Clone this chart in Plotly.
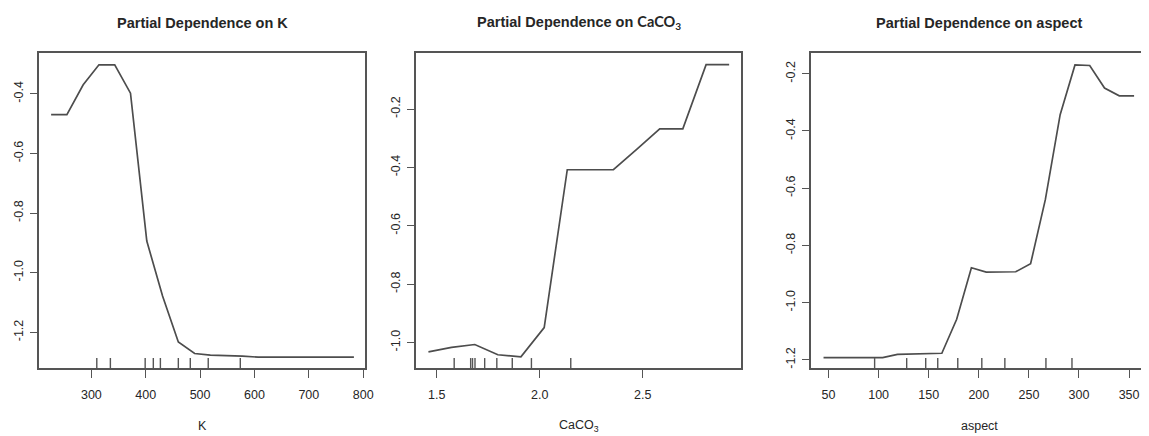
import plotly.graph_objects as go

# ---------------- data ----------------
k_x = [226, 255, 285, 314, 343, 372, 402, 431, 460, 490, 519, 548, 578, 607,
       636, 665, 695, 724, 753, 783]
k_y = [-0.470, -0.470, -0.370, -0.303, -0.303, -0.398, -0.894, -1.078, -1.232,
       -1.271, -1.276, -1.277, -1.280, -1.283, -1.283, -1.283, -1.283, -1.283,
       -1.283, -1.283]
k_rug = [310, 335, 399, 414, 427, 460, 482, 515, 574]

ca_x = [1.460, 1.572, 1.685, 1.797, 1.909, 2.022, 2.134, 2.246, 2.358, 2.471,
        2.583, 2.695, 2.808, 2.920]
ca_y = [-1.032, -1.017, -1.007, -1.042, -1.049, -0.949, -0.408, -0.408,
        -0.408, -0.338, -0.268, -0.268, -0.048, -0.048]
ca_rug = [1.585, 1.665, 1.674, 1.686, 1.733, 1.792, 1.867, 1.960, 2.151]

asp_x = [45, 59.8, 74.5, 89.3, 104, 118.8, 133.6, 148.3, 163.1, 177.9, 192.6,
         207.4, 222.1, 236.9, 251.7, 266.4, 281.2, 296, 310.7, 325.5, 340.2, 355]
asp_y = [-1.192, -1.192, -1.192, -1.192, -1.192, -1.181, -1.180, -1.178,
         -1.177, -1.058, -0.878, -0.893, -0.892, -0.892, -0.864, -0.640,
         -0.343, -0.169, -0.171, -0.250, -0.277, -0.277]
asp_rug = [96, 128, 147, 159, 179, 203, 226, 267, 293]

k_xticks = [300, 400, 500, 600, 700, 800]
k_yticks = [-0.4, -0.6, -0.8, -1.0, -1.2]
ca_xticks = [1.5, 2.0, 2.5]
ca_yticks = [-0.2, -0.4, -0.6, -0.8, -1.0]
asp_xticks = [50, 100, 150, 200, 250, 300, 350]
asp_yticks = [-0.2, -0.4, -0.6, -0.8, -1.0, -1.2]

titles = ["<b>Partial Dependence on K</b>",
          "<b>Partial Dependence on </b><span style='font-family:Lato'><b>CaCO<sub>3</sub></b></span>",
          "<b>Partial Dependence on aspect</b>"]
xlabels = ["K", "CaCO<sub>3</sub>", "aspect"]

# ---------------- layout ----------------
W, H = 1149, 436
LINE = "#4d4d4d"
AX = "#555555"
TXT = "#262626"
FONT = "Liberation Sans, Arial, sans-serif"

ydom = [1 - 369 / H, 1 - 53 / H]
xdoms = [[39 / W, 368 / W], [419 / W, 746.3 / W], [816.7 / W, 1.0]]
xranges = [[203.2, 804.2], [1.40, 2.978], [32.5, 361.9]]
yranges = [[-1.32, -0.263], [-1.088, -0.0075], [-1.229, -0.127]]

fig = go.Figure()
series = [(k_x, k_y), (ca_x, ca_y), (asp_x, asp_y)]
rugs = [k_rug, ca_rug, asp_rug]
xticks = [k_xticks, ca_xticks, asp_xticks]
yticks = [k_yticks, ca_yticks, asp_yticks]

shapes = []
annotations = []
for i, (xs, ys) in enumerate(series):
    sfx = "" if i == 0 else str(i + 1)
    fig.add_trace(go.Scatter(x=xs, y=ys, mode="lines",
                             line=dict(color=LINE, width=1.7),
                             xaxis="x" + sfx, yaxis="y" + sfx,
                             showlegend=False, hoverinfo="skip"))
    for v in rugs[i]:
        shapes.append(dict(type="line", xref="x" + sfx, yref="y" + sfx + " domain",
                           x0=v, x1=v, y0=0, y1=0.032,
                           line=dict(color=AX, width=1.4)))
    xt = xticks[i]
    yt = yticks[i]
    xfmt = (lambda v: f"{v:.1f}") if i == 1 else (lambda v: f"{v:g}")
    fig.update_layout(**{
        "xaxis" + sfx: dict(domain=xdoms[i], range=xranges[i], anchor="y" + sfx,
                            showline=True, mirror=True, linecolor=AX, linewidth=1.5,
                            ticks="outside", ticklen=8, tickwidth=1.4, tickcolor=AX,
                            tickvals=xt, ticktext=[xfmt(v) for v in xt],
                            ticklabelstandoff=6,
                            showgrid=False, zeroline=False,
                            tickfont=dict(family=FONT, size=12.5, color=TXT)),
        "yaxis" + sfx: dict(domain=ydom, range=yranges[i], anchor="x" + sfx,
                            showline=True, mirror=(i != 2), linecolor=AX, linewidth=1.5,
                            ticks="outside", ticklen=7, tickwidth=1.4, tickcolor=AX,
                            tickvals=yt, ticktext=[f"{v:.1f}" for v in yt],
                            tickangle=-90, ticklabelstandoff=2,
                            showgrid=False, zeroline=False,
                            tickfont=dict(family=FONT, size=12.5, color=TXT)),
    })
    cx = [203.5 / W, 582.7 / W, 986 / W][i]
    annotations.append(dict(text=titles[i], x=cx, y=1 - 22.7 / H, xref="paper", yref="paper",
                            xanchor="center", yanchor="middle", showarrow=False,
                            font=dict(family=FONT, size=14.5, color=TXT)))
    annotations.append(dict(text=xlabels[i], x=cx, y=1 - 427 / H, xref="paper", yref="paper",
                            xanchor="center", yanchor="middle", showarrow=False,
                            font=dict(family=FONT, size=12.5, color=TXT)))

fig.update_layout(width=W, height=H, margin=dict(l=0, r=0, t=0, b=0),
                  paper_bgcolor="white", plot_bgcolor="white",
                  shapes=shapes, annotations=annotations, showlegend=False)

fig.write_html("out.html", config={"displayModeBar": False})
